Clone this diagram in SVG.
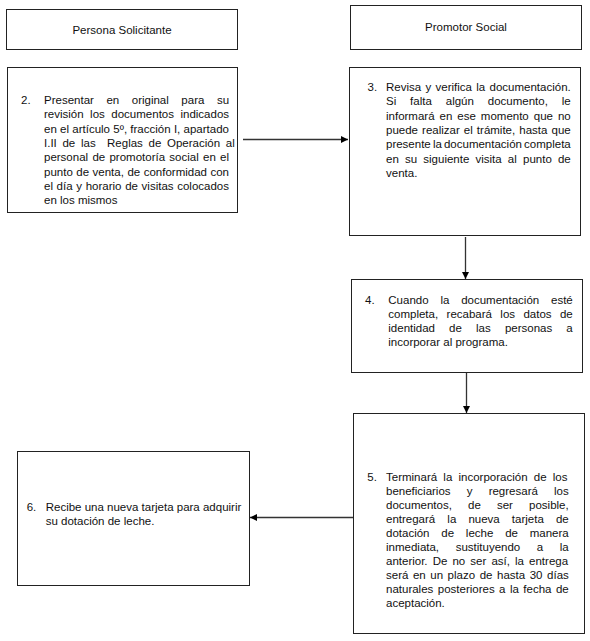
<svg xmlns="http://www.w3.org/2000/svg" width="590" height="641" viewBox="0 0 590 641">
<defs>
<style>
.box{fill:#fff;stroke:#222;stroke-width:1}
.t{font-family:"Liberation Sans",Arial,sans-serif;font-size:11.5px;fill:#111}
.h{font-family:"Liberation Sans",Arial,sans-serif;font-size:11.5px;fill:#111;text-anchor:middle}
.c{fill:none;stroke:#333;stroke-width:1.3}
</style>
<marker id="ah" viewBox="0 0 10 10" refX="10" refY="5" markerWidth="7" markerHeight="7" markerUnits="userSpaceOnUse" orient="auto">
<path d="M0,0 L10,5 L0,10 z" fill="#000"/>
</marker>
</defs>
<rect width="590" height="641" fill="#fff"/>

<g id="hdr-persona">
<rect class="box" x="6.5" y="9.5" width="231" height="40"/>
<text class="h" x="122" y="34">Persona Solicitante</text>
</g>

<g id="hdr-promotor">
<rect class="box" x="350.5" y="5.5" width="231" height="44"/>
<text class="h" x="466" y="31">Promotor Social</text>
</g>

<g id="step2">
<rect class="box" x="7.5" y="67.5" width="230" height="145"/>
<text class="t" x="21" y="104">2.</text>
<text class="t" x="44" y="104" word-spacing="9.35">Presentar en original para su</text>
<text class="t" x="44" y="118.3" word-spacing="3.3">revisión los documentos indicados</text>
<text class="t" x="44" y="132.6" word-spacing="0.08">en el artículo 5º, fracción I, apartado</text>
<text class="t" x="44" y="146.9" word-spacing="2.5" style="white-space:pre">I.II de las  Reglas de Operación al</text>
<text class="t" x="44" y="161.2" word-spacing="1.08">personal de promotoría social en el</text>
<text class="t" x="44" y="175.5" word-spacing="0.3">punto de venta, de conformidad con</text>
<text class="t" x="44" y="189.8" word-spacing="0.47">el día y horario de visitas colocados</text>
<text class="t" x="44" y="204.1">en los mismos</text>
</g>

<g id="step3">
<rect class="box" x="349.5" y="67.5" width="231" height="168"/>
<text class="t" x="367.5" y="91">3.</text>
<text class="t" x="386" y="91" word-spacing="1.12">Revisa y verifica la documentación.</text>
<text class="t" x="386" y="105.3" word-spacing="10.7">Si falta algún documento, le</text>
<text class="t" x="386" y="119.6" word-spacing="1.78">informará en ese momento que no</text>
<text class="t" x="386" y="133.9" word-spacing="0.88">puede realizar el trámite, hasta que</text>
<text class="t" x="386" y="148.2" word-spacing="-1.07">presente la documentación completa</text>
<text class="t" x="386" y="162.5" word-spacing="2.98">en su siguiente visita al punto de</text>
<text class="t" x="386" y="176.8">venta.</text>
</g>

<g id="step4">
<rect class="box" x="351.5" y="279.5" width="231" height="93"/>
<text class="t" x="365" y="304">4.</text>
<text class="t" x="388.3" y="304" word-spacing="8.63">Cuando la documentación esté</text>
<text class="t" x="388.3" y="318" word-spacing="5.2">completa, recabará los datos de</text>
<text class="t" x="388.3" y="332" word-spacing="10.95">identidad de las personas a</text>
<text class="t" x="388.3" y="346">incorporar al programa.</text>
</g>

<g id="step5">
<rect class="box" x="353.5" y="413.5" width="231" height="220"/>
<text class="t" x="367.3" y="481">5.</text>
<text class="t" x="386" y="481" word-spacing="3.02">Terminará la incorporación de los</text>
<text class="t" x="386" y="495" word-spacing="12.97">beneficiarios y regresará los</text>
<text class="t" x="386" y="509" word-spacing="12.96">documentos, de ser posible,</text>
<text class="t" x="386" y="523" word-spacing="8.92">entregará la nueva tarjeta de</text>
<text class="t" x="386" y="537" word-spacing="8.6">dotación de leche de manera</text>
<text class="t" x="386" y="551" word-spacing="13.4">inmediata, sustituyendo a la</text>
<text class="t" x="386" y="565" word-spacing="1.9">anterior. De no ser así, la entrega</text>
<text class="t" x="386" y="579" word-spacing="1.36">será en un plazo de hasta 30 días</text>
<text class="t" x="386" y="593" word-spacing="1.26">naturales posteriores a la fecha de</text>
<text class="t" x="386" y="607">aceptación.</text>
</g>

<g id="step6">
<rect class="box" x="17.5" y="451.5" width="232" height="134"/>
<text class="t" x="26.7" y="511">6.</text>
<text class="t" x="45.7" y="511">Recibe una nueva tarjeta para adquirir</text>
<text class="t" x="45.7" y="524.5">su dotación de leche.</text>
</g>

<g id="connectors">
<line class="c" x1="243" y1="139.5" x2="348" y2="139.5" marker-end="url(#ah)"/>
<line class="c" x1="465.5" y1="237" x2="465.5" y2="279" marker-end="url(#ah)"/>
<line class="c" x1="466.5" y1="373" x2="466.5" y2="413" marker-end="url(#ah)"/>
<line class="c" x1="353" y1="517.5" x2="250" y2="517.5" marker-end="url(#ah)"/>
</g>
</svg>
